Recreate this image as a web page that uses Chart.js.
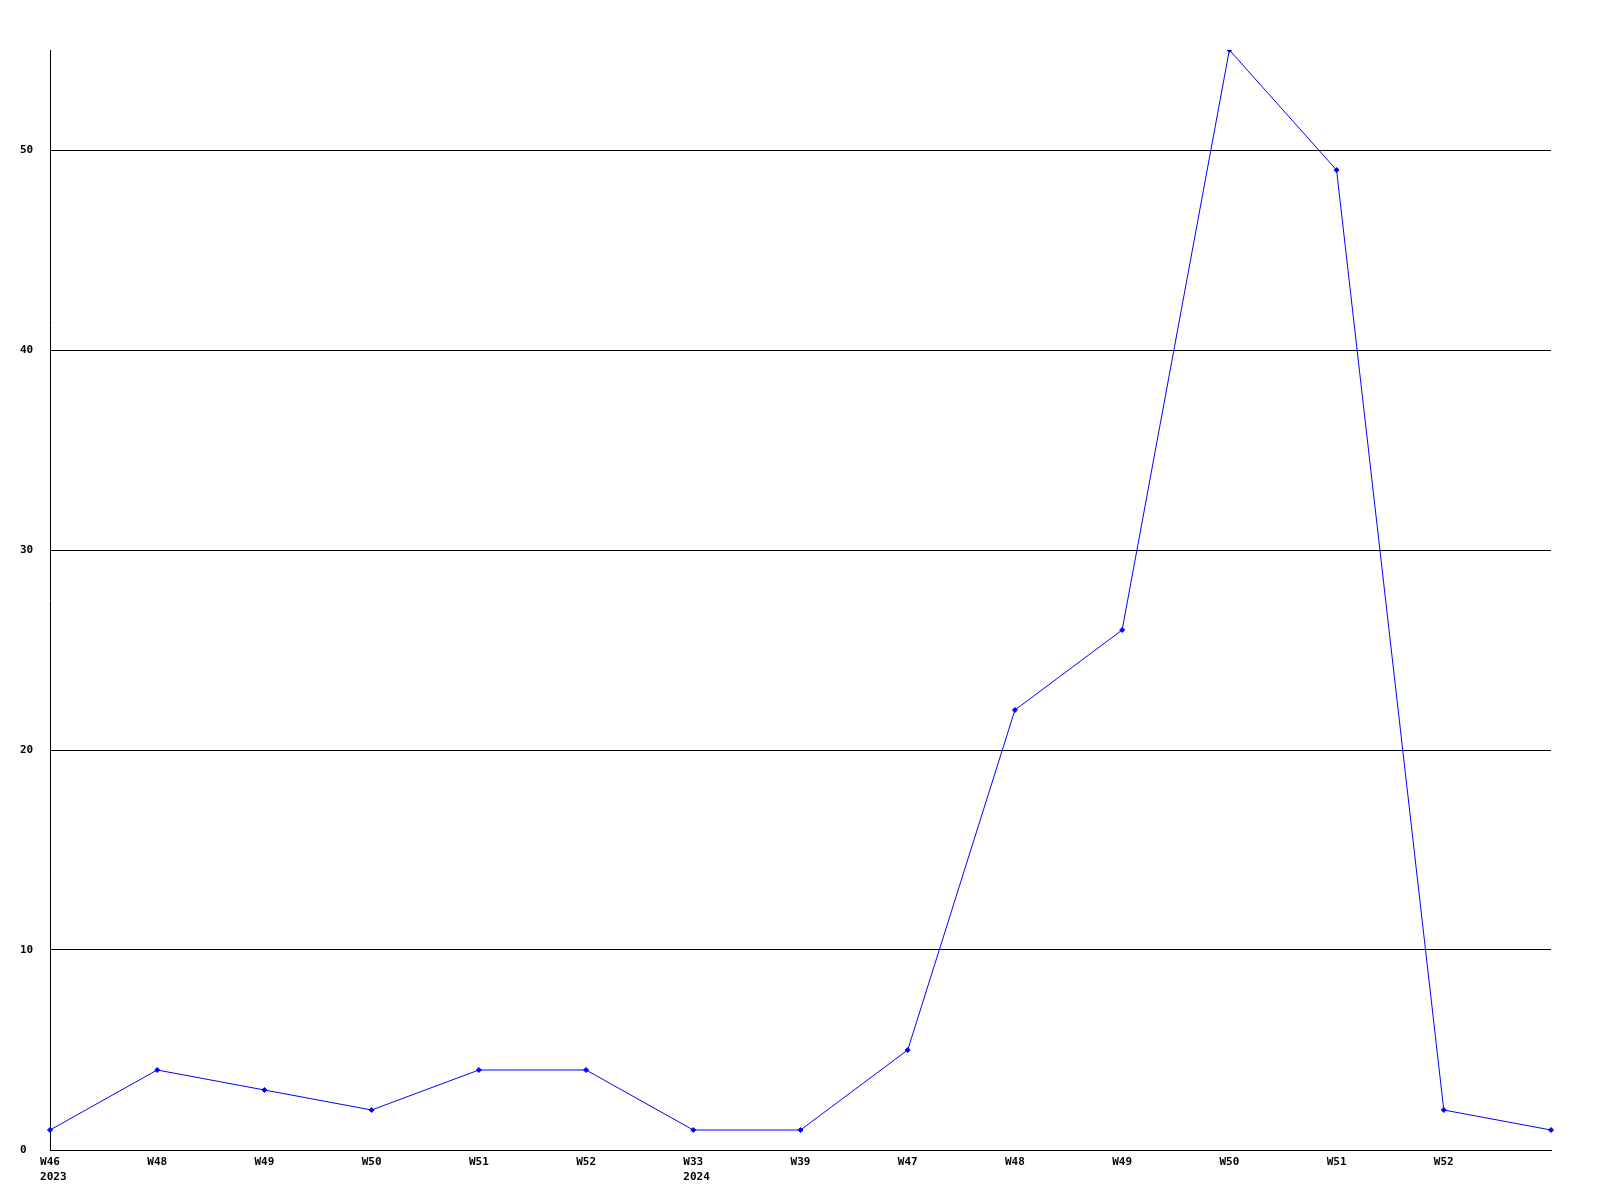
<!DOCTYPE html>
<html>
<head>
<meta charset="utf-8">
<script src="https://cdn.jsdelivr.net/npm/chart.js@4"></script>
<style>
html,body{margin:0;padding:0;background:#fff;}
canvas{display:block;}
</style>
</head>
<body>
<canvas id="c" width="1600" height="1200"></canvas>
<script>
const weekLabels = ["W46","W48","W49","W50","W51","W52","W33","W39","W47","W48","W49","W50","W51","W52",""];
const yearLabels = ["2023","","","","","","2024","","","","","","","",""];
const counts = [1,4,3,2,4,4,1,1,5,22,26,55,49,2,1];
const yTicks = [0,10,20,30,40,50];

const FONT = {family: "'DejaVu Sans Mono', monospace", size: 11, weight: 'bold'};

const yearPlugin = {
  id: 'years',
  afterDraw(chart) {
    const ctx = chart.ctx;
    const xs = chart.scales.x;
    ctx.save();
    ctx.font = "bold 11px 'DejaVu Sans Mono', monospace";
    ctx.fillStyle = '#000';
    ctx.textBaseline = 'middle';
    ctx.textAlign = 'left';
    yearLabels.forEach((y, i) => {
      if (!y) return;
      const px = xs.getPixelForValue(i);
      const w = ctx.measureText(weekLabels[i]).width;
      ctx.fillText(y, px - w / 2, chart.chartArea.bottom + 27);
    });
    ctx.restore();
  }
};

new Chart(document.getElementById('c'), {
  type: 'line',
  data: {
    labels: weekLabels,
    datasets: [{
      data: counts,
      borderColor: '#0000ff',
      backgroundColor: '#0000ff',
      borderWidth: 1,
      tension: 0,
      fill: false,
      pointStyle: 'rectRot',
      pointRadius: 2.5,
      pointBorderWidth: 1,
      pointHoverRadius: 2.5
    }]
  },
  options: {
    responsive: false,
    animation: false,
    devicePixelRatio: 1,
    layout: {padding: {left: 20, top: 50, right: 49, bottom: 0}},
    plugins: {legend: {display: false}, tooltip: {enabled: false}},
    scales: {
      x: {
        type: 'category',
        offset: false,
        grid: {display: false, drawTicks: false},
        border: {display: true, color: '#000', width: 1},
        ticks: {
          autoSkip: false, maxRotation: 0, minRotation: 0,
          color: '#000', font: FONT, padding: 6
        },
        afterFit(s) { s.height = 50; }
      },
      y: {
        min: 0, max: 55,
        grid: {color: '#000', lineWidth: 1, drawTicks: false},
        border: {display: true, color: '#000', width: 1},
        ticks: {
          stepSize: 10, color: '#000', font: FONT, crossAlign: 'far', padding: 0
        },
        afterBuildTicks(s) { s.ticks = yTicks.map(v => ({value: v})); },
        afterFit(s) { s.width = 30; }
      }
    }
  },
  plugins: [yearPlugin]
});
</script>
</body>
</html>
